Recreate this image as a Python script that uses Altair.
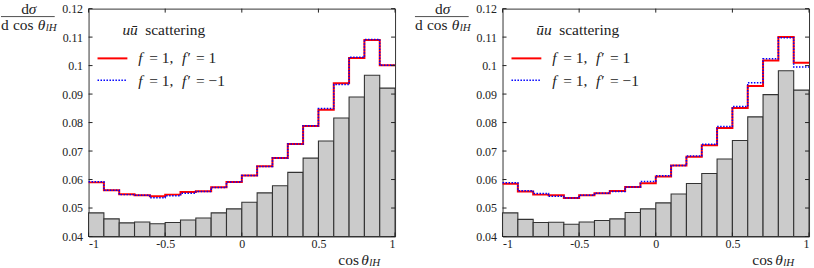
import altair as alt
import pandas as pd

# ---------------- data ----------------
edges_lo = [-1.0, -0.9, -0.8, -0.7, -0.6, -0.5, -0.4, -0.3, -0.2, -0.1,
            0.0, 0.1, 0.2, 0.3, 0.4, 0.5, 0.6, 0.7, 0.8, 0.9]
edges_hi = [-0.9, -0.8, -0.7, -0.6, -0.5, -0.4, -0.3, -0.2, -0.1, 0.0,
            0.1, 0.2, 0.3, 0.4, 0.5, 0.6, 0.7, 0.8, 0.9, 1.0]

left_gray = [0.0483, 0.0462, 0.0448, 0.0451, 0.0445, 0.0449, 0.0458, 0.0465, 0.0483, 0.0497,
             0.0520, 0.0553, 0.0578, 0.0625, 0.0675, 0.0735, 0.0816, 0.0890, 0.0966, 0.0921]
left_red = [0.0590, 0.0562, 0.0548, 0.0545, 0.0541, 0.0547, 0.0556, 0.0559, 0.0573, 0.0591,
            0.0614, 0.0647, 0.0676, 0.0725, 0.0788, 0.0845, 0.0938, 0.1027, 0.1090, 0.1001]
left_blue = [0.0592, 0.0562, 0.0547, 0.0545, 0.0536, 0.0543, 0.0552, 0.0558, 0.0572, 0.0591,
             0.0614, 0.0646, 0.0676, 0.0725, 0.0789, 0.0849, 0.0934, 0.1029, 0.1092, 0.1001]

right_gray = [0.0483, 0.0460, 0.0449, 0.0450, 0.0443, 0.0451, 0.0456, 0.0462, 0.0484, 0.0497,
              0.0518, 0.0549, 0.0586, 0.0621, 0.0672, 0.0737, 0.0820, 0.0898, 0.0982, 0.0914]
right_red = [0.0585, 0.0558, 0.0547, 0.0545, 0.0535, 0.0545, 0.0552, 0.0560, 0.0574, 0.0587,
             0.0611, 0.0649, 0.0680, 0.0720, 0.0781, 0.0851, 0.0928, 0.1018, 0.1100, 0.1010]
right_blue = [0.0589, 0.0561, 0.0551, 0.0541, 0.0535, 0.0545, 0.0552, 0.0558, 0.0574, 0.0593,
              0.0613, 0.0649, 0.0683, 0.0724, 0.0786, 0.0856, 0.0940, 0.1024, 0.1098, 0.0995]

x_ticks = [-1, -0.5, 0, 0.5, 1]
y_ticks = [0.04, 0.05, 0.06, 0.07, 0.08, 0.09, 0.10, 0.11, 0.12]

titles = {"left": ("u\u016b", "scattering"), "right": ("\u016bu", "scattering")}
legend_red = "= 1"
legend_blue = "= \u22121"

# ---------------- style ----------------
FONT = "Liberation Serif"
INK = "#222222"
W, H = 308, 229
RED = "#ff0000"
BLUE = "#0000ff"
TS = 15.5    # annotation text size
SUB = 11     # subscript size

xscale = alt.Scale(domain=[-1, 1], nice=False, zero=False)
yscale = alt.Scale(domain=[0.04, 0.12], nice=False, zero=False)

xaxis = alt.Axis(values=x_ticks, ticks=False, domain=False, grid=False, labelOverlap=False,
                 labelExpr="'' + datum.value", labelFont=FONT, labelFontSize=12,
                 labelColor=INK, labelPadding=2, title=None)
yaxis = alt.Axis(values=y_ticks, ticks=False, domain=False, grid=False, labelOverlap=False,
                 labelExpr="format(datum.value, '.2~f')", labelFont=FONT, labelFontSize=12,
                 labelColor=INK, labelPadding=6, title=None)


def X(field):
    return alt.X(field, type="quantitative", scale=xscale, axis=xaxis)


def Y(field):
    return alt.Y(field, type="quantitative", scale=yscale, axis=yaxis)


def txt(label, x, y, size=TS, style="normal", align="left"):
    return alt.Chart(pd.DataFrame({"t": [label]})).mark_text(
        font=FONT, fontSize=size, fontStyle=style, align=align, baseline="middle", color=INK
    ).encode(x=alt.value(x), y=alt.value(y), text="t:N")


def seg(x1, x2, y1, y2, color=INK, width=1.0, dash=None):
    kw = dict(color=color, strokeWidth=width)
    if dash:
        kw["strokeDash"] = dash
    return alt.Chart(pd.DataFrame({"a": [0]})).mark_rule(**kw).encode(
        x=alt.value(x1), x2=alt.value(x2), y=alt.value(y1), y2=alt.value(y2))


def panel(gray, red, blue, key):
    bars_df = pd.DataFrame({"lo": edges_lo, "hi": edges_hi, "v": gray})
    bars = alt.Chart(bars_df).mark_bar(color="#cbcbcb", stroke="#333333", strokeWidth=1.1).encode(
        x=X("lo"), x2="hi:Q", y=Y("v"), y2=alt.datum(0.04),
    )
    step_x = edges_lo + [1.0]
    red_df = pd.DataFrame({"x": step_x, "v": red + [red[-1]]})
    blue_df = pd.DataFrame({"x": step_x, "v": blue + [blue[-1]]})
    red_line = alt.Chart(red_df).mark_line(color=RED, strokeWidth=2, interpolate="step-after").encode(
        x=X("x"), y=Y("v"))
    blue_line = alt.Chart(blue_df).mark_line(color=BLUE, strokeWidth=1.5, strokeDash=[1.5, 1.5],
                                             interpolate="step-after").encode(x=X("x"), y=Y("v"))

    yt = pd.DataFrame({"v": y_ticks})
    xt = pd.DataFrame({"x": x_ticks})
    tl = alt.Chart(yt).mark_rule(color=INK).encode(y=Y("v"), x=alt.value(0), x2=alt.value(4))
    tr = alt.Chart(yt).mark_rule(color=INK).encode(y=Y("v"), x=alt.value(W - 4), x2=alt.value(W))
    tb = alt.Chart(xt).mark_rule(color=INK).encode(x=X("x"), y=alt.value(H - 4), y2=alt.value(H))
    tt = alt.Chart(xt).mark_rule(color=INK).encode(x=X("x"), y=alt.value(0), y2=alt.value(4))

    t1, t2 = titles[key]
    ann = [
        # legend title
        txt(t1, 34, 22, style="italic"),
        txt(t2, 57, 22),
        # legend entries
        seg(9, 39, 50, 50, color=RED, width=2),
        txt("f", 50, 50, style="italic"),
        txt("= 1,", 61, 50),
        txt("f\u2032", 94, 50, style="italic"),
        txt(legend_red, 108, 50),
        seg(9, 39, 72, 72, color=BLUE, width=1.5, dash=[1.5, 1.5]),
        txt("f", 50, 73, style="italic"),
        txt("= 1,", 61, 73),
        txt("f\u2032", 94, 73, style="italic"),
        txt(legend_blue, 108, 73),
        # y title (fraction)
        txt("d", -60, 0, align="right"),
        txt("\u03c3", -60, 0, style="italic"),
        seg(-88, -34, 8, 8, width=0.8),
        txt("d", -88, 16),
        txt("cos", -76, 16),
        txt("\u03b8", -51, 16, style="italic"),
        txt("lH", -43, 19, size=SUB, style="italic"),
        # x title
        txt("cos", W - 57, H + 24),
        txt("\u03b8", W - 34, H + 24, style="italic"),
        txt("lH", W - 26, H + 27, size=SUB, style="italic"),
    ]
    return alt.layer(bars, red_line, blue_line, tl, tr, tb, tt, *ann).properties(width=W, height=H)


left = panel(left_gray, left_red, left_blue, "left")
right = panel(right_gray, right_red, right_blue, "right")

chart = alt.hconcat(left, right, spacing=14).properties(
    padding={"left": 0, "top": 0, "right": 0, "bottom": 0},
    background="white",
).configure(font=FONT).configure_view(stroke="#333333", strokeWidth=1)

chart.save("out.html", embed_options={"renderer": "svg", "actions": False})
